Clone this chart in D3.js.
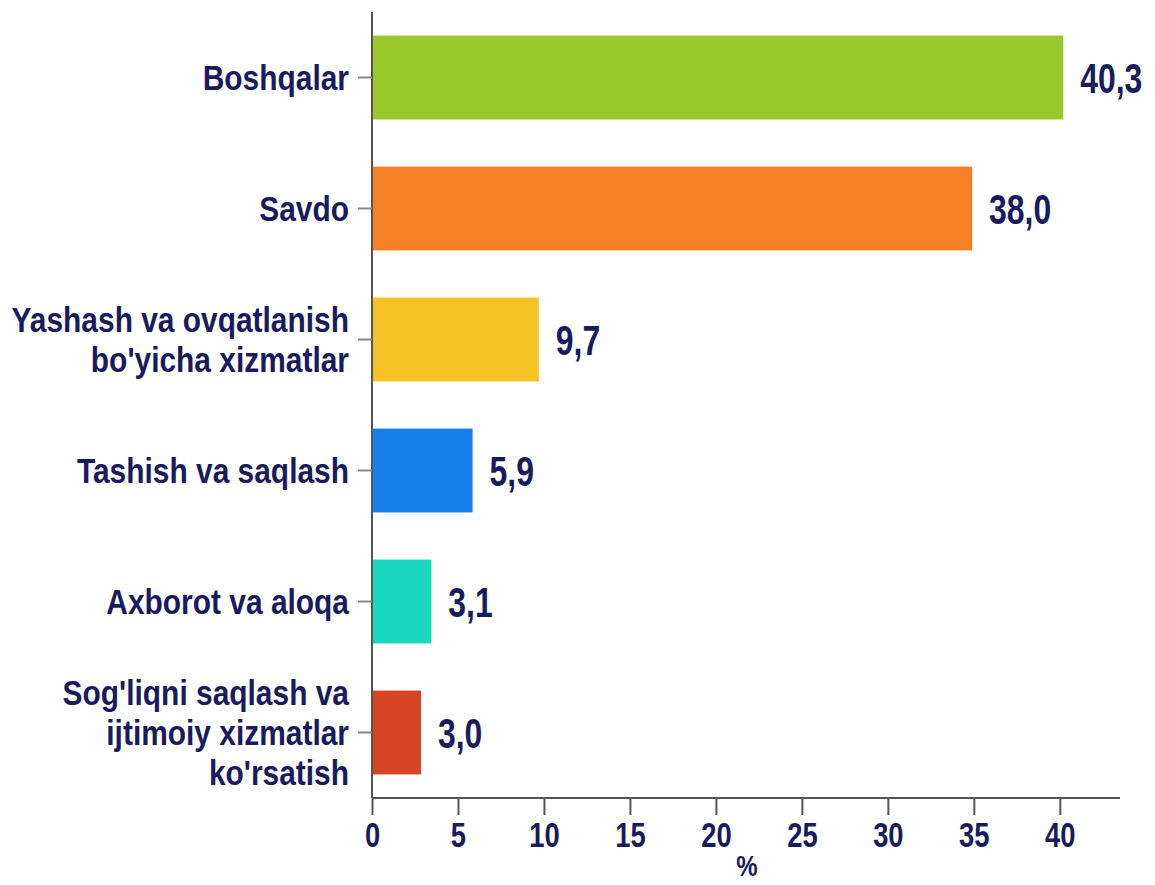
<!DOCTYPE html>
<html>
<head>
<meta charset="utf-8">
<script src="https://cdn.jsdelivr.net/npm/d3@7"></script>
<style>
  html, body { margin: 0; padding: 0; background: #fff; }
  svg { display: block; }
  text { font-family: "Liberation Sans", Arial, sans-serif; font-weight: bold; fill: #1a1a5e; }
</style>
</head>
<body>
<svg id="chart" width="1155" height="885"></svg>
<script>
// Categories (each entry: lines of the label)
const categories = [
  ["Boshqalar"],
  ["Savdo"],
  ["Yashash va ovqatlanish", "bo'yicha xizmatlar"],
  ["Tashish va saqlash"],
  ["Axborot va aloqa"],
  ["Sog'liqni saqlash va", "ijtimoiy xizmatlar", "ko'rsatish"]
];
// Bar lengths as drawn in the picture
const barValues = [40.2, 34.9, 9.7, 5.85, 3.45, 2.85];
// Value labels as printed
const valueLabels = ["40,3", "38,0", "9,7", "5,9", "3,1", "3,0"];
const barColors = ["#98c82a", "#f58025", "#f5c226", "#1580e8", "#18d8c0", "#d64526"];
const xTicks = [0, 5, 10, 15, 20, 25, 30, 35, 40];
const xTitle = "%";

const svg = d3.select("#chart");
const x = d3.scaleLinear().domain([0, 43.5]).range([372, 1120]);
const idx = d3.range(categories.length);
const y = d3.scaleBand().domain(idx).range([12, 798]).paddingInner(0.36).paddingOuter(0.18);

// bars
svg.append("g").selectAll("rect").data(idx).join("rect")
  .attr("x", x(0))
  .attr("y", i => y(i))
  .attr("width", i => x(barValues[i]) - x(0))
  .attr("height", y.bandwidth())
  .attr("fill", i => barColors[i]);

// value labels (condensed look via horizontal scaling)
svg.append("g").selectAll("text").data(idx).join("text")
  .attr("transform", i => `translate(${x(barValues[i]) + 17},${y(i) + y.bandwidth() / 2}) scale(0.76,1)`)
  .attr("dy", "0.36em")
  .style("font-size", "42px")
  .text(i => valueLabels[i]);

// x axis
const xAxis = svg.append("g")
  .attr("transform", "translate(0,798)")
  .call(d3.axisBottom(x).tickValues(xTicks).tickSize(17).tickPadding(5).tickFormat(d3.format("d")));
xAxis.select(".domain").attr("stroke", "#555").attr("stroke-width", 2).attr("d", `M${x(0)},0H${x(43.5)}`);
xAxis.selectAll(".tick line").attr("stroke", "#555").attr("stroke-width", 2);
xAxis.selectAll(".tick text")
  .style("font-size", "36px").attr("fill", "#1a1a5e").attr("dy", "0.74em")
  .attr("transform", "scale(0.76,1)");

// y axis
const yAxis = svg.append("g")
  .attr("transform", `translate(${x(0)},0)`)
  .call(d3.axisLeft(y).tickSize(14).tickFormat(""));
yAxis.select(".domain").attr("stroke", "#555").attr("stroke-width", 2).attr("d", "M0,12V798");
yAxis.selectAll(".tick line").attr("stroke", "#888").attr("stroke-width", 2);

// category labels
const lineH = 40;
const labG = svg.append("g");
idx.forEach(i => {
  const lines = categories[i];
  const cy = y(i) + y.bandwidth() / 2;
  const t = labG.append("text")
    .attr("text-anchor", "end")
    .attr("transform", "translate(349,0) scale(0.855,1)")
    .style("font-size", "35px");
  lines.forEach((ln, k) => {
    t.append("tspan")
      .attr("x", 0)
      .attr("y", cy + (k - (lines.length - 1) / 2) * lineH)
      .attr("dy", "0.36em")
      .text(ln);
  });
});

// x title
svg.append("text")
  .attr("transform", "translate(747,876) scale(0.8,1)")
  .attr("text-anchor", "middle")
  .style("font-size", "30px")
  .text(xTitle);
</script>
</body>
</html>
